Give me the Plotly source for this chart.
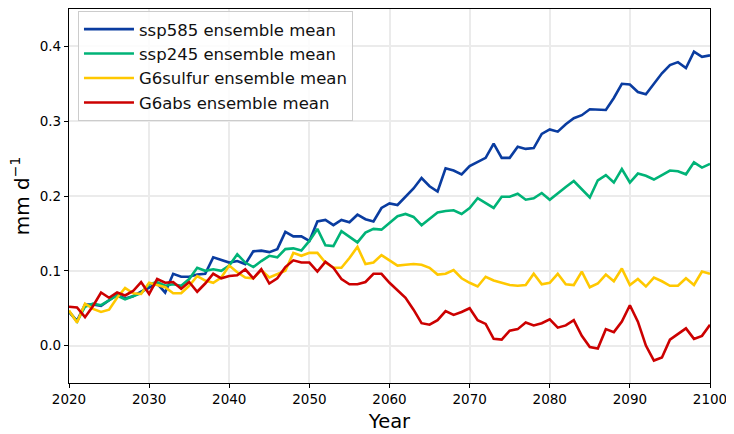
import plotly.graph_objects as go

years = list(range(2020, 2101))

ssp585 = [0.045, 0.033, 0.055, 0.055, 0.053, 0.060, 0.068, 0.063, 0.066, 0.072,
          0.077, 0.083, 0.071, 0.096, 0.092, 0.092, 0.095, 0.096, 0.118, 0.115,
          0.111, 0.113, 0.109, 0.126, 0.127, 0.125, 0.129, 0.152, 0.146, 0.146,
          0.140, 0.166, 0.168, 0.161, 0.168, 0.165, 0.175, 0.169, 0.166, 0.184,
          0.190, 0.188, 0.199, 0.210, 0.224, 0.213, 0.206, 0.237, 0.234, 0.229,
          0.240, 0.246, 0.251, 0.270, 0.251, 0.251, 0.266, 0.263, 0.264, 0.283,
          0.289, 0.286, 0.296, 0.304, 0.308, 0.316, 0.316, 0.315, 0.331, 0.350,
          0.349, 0.339, 0.336, 0.350, 0.364, 0.375, 0.379, 0.371, 0.393, 0.386,
          0.388]

ssp245 = [0.046, 0.032, 0.052, 0.056, 0.054, 0.060, 0.067, 0.062, 0.066, 0.070,
          0.082, 0.085, 0.080, 0.082, 0.080, 0.089, 0.104, 0.100, 0.102, 0.100,
          0.107, 0.122, 0.111, 0.105, 0.113, 0.120, 0.118, 0.129, 0.130, 0.127,
          0.140, 0.156, 0.134, 0.133, 0.153, 0.145, 0.138, 0.151, 0.156, 0.155,
          0.164, 0.173, 0.176, 0.172, 0.161, 0.170, 0.178, 0.180, 0.181, 0.176,
          0.184, 0.197, 0.191, 0.184, 0.199, 0.199, 0.203, 0.195, 0.197, 0.204,
          0.195, 0.204, 0.212, 0.220, 0.209, 0.198, 0.221, 0.228, 0.218, 0.236,
          0.218, 0.230, 0.227, 0.222, 0.228, 0.234, 0.233, 0.229, 0.245, 0.238,
          0.243]

g6sulfur = [0.047, 0.031, 0.056, 0.049, 0.045, 0.048, 0.064, 0.077, 0.070, 0.069,
            0.084, 0.081, 0.078, 0.070, 0.070, 0.080, 0.093, 0.087, 0.084, 0.091,
            0.107, 0.098, 0.091, 0.090, 0.101, 0.091, 0.095, 0.100, 0.124, 0.120,
            0.124, 0.124, 0.111, 0.104, 0.104, 0.117, 0.132, 0.109, 0.111, 0.121,
            0.114, 0.107, 0.108, 0.109, 0.108, 0.104, 0.095, 0.096, 0.101, 0.090,
            0.084, 0.079, 0.092, 0.087, 0.084, 0.081, 0.080, 0.081, 0.096, 0.082,
            0.084, 0.096, 0.082, 0.081, 0.099, 0.078, 0.083, 0.095, 0.086, 0.103,
            0.081, 0.089, 0.079, 0.091, 0.086, 0.080, 0.080, 0.090, 0.081, 0.099,
            0.096]

g6abs = [0.052, 0.051, 0.038, 0.053, 0.071, 0.064, 0.071, 0.067, 0.073, 0.085,
         0.069, 0.089, 0.084, 0.085, 0.076, 0.085, 0.072, 0.083, 0.096, 0.090,
         0.093, 0.094, 0.102, 0.090, 0.102, 0.083, 0.090, 0.105, 0.114, 0.111,
         0.111, 0.099, 0.112, 0.104, 0.089, 0.082, 0.082, 0.085, 0.096, 0.096,
         0.084, 0.074, 0.064, 0.048, 0.030, 0.028, 0.034, 0.046, 0.041, 0.045,
         0.050, 0.034, 0.029, 0.009, 0.008, 0.020, 0.022, 0.031, 0.027, 0.030,
         0.035, 0.024, 0.027, 0.034, 0.013, -0.002, -0.004, 0.022, 0.018, 0.032,
         0.054, 0.032, 0.000, -0.020, -0.016, 0.008, 0.016, 0.023, 0.009, 0.013,
         0.028]

series_names = ["ssp585 ensemble mean", "ssp245 ensemble mean",
                "G6sulfur ensemble mean", "G6abs ensemble mean"]
series_values = [ssp585, ssp245, g6sulfur, g6abs]
colors = ["#0a3ca0", "#00b377", "#ffc800", "#cc0000"]

x_ticks = [2020, 2030, 2040, 2050, 2060, 2070, 2080, 2090, 2100]
y_ticks = [0.0, 0.1, 0.2, 0.3, 0.4]

FONT = "DejaVu Sans"

fig = go.Figure()
for i, (name, vals, col) in enumerate(zip(series_names, series_values, colors)):
    fig.add_trace(go.Scatter(
        x=years, y=vals, mode="lines", name=name,
        line=dict(color=col, width=2.6),
        legendgroup=f"g{i}",
    ))

# the page adds an 8px body margin, so the figure is sized/offset to compensate
fig.update_layout(
    width=726, height=426,
    margin=dict(l=61, r=24, t=1, b=51, autoexpand=False),
    paper_bgcolor="white", plot_bgcolor="white",
    font=dict(family=FONT, color="black", size=13.5),
    legend=dict(
        x=0.014, y=0.995, xanchor="left", yanchor="top",
        bgcolor="rgba(255,255,255,0.85)", bordercolor="#cccccc", borderwidth=1,
        font=dict(family=FONT, size=16.5, color="#111111"),
        tracegroupgap=0, itemwidth=50,
    ),
    showlegend=True,
    annotations=[dict(
        text="mm d<sup>−1</sup>", textangle=-90,
        xref="paper", yref="paper", x=-0.076, y=0.5,
        xanchor="center", yanchor="middle", showarrow=False,
        font=dict(family=FONT, size=20, color="black"),
    )],
)

fig.update_xaxes(
    range=[2020, 2100], tickvals=x_ticks, ticktext=[str(t) for t in x_ticks],
    showgrid=True, gridcolor="#ebebeb", gridwidth=1.5,
    showline=True, linecolor="black", linewidth=1.3, mirror=True,
    ticks="outside", ticklen=4, tickcolor="black",
    zeroline=False, automargin=False,
    title=dict(text="Year", font=dict(family=FONT, size=19.5), standoff=8),
)
fig.update_yaxes(
    range=[-0.05, 0.45], tickvals=y_ticks, ticktext=[f"{t:.1f}" for t in y_ticks],
    showgrid=True, gridcolor="#ebebeb", gridwidth=1.5,
    showline=True, linecolor="black", linewidth=1.3, mirror=True,
    ticks="outside", ticklen=4, tickcolor="black",
    zeroline=False, automargin=False,
)

fig.write_html("out.html")
